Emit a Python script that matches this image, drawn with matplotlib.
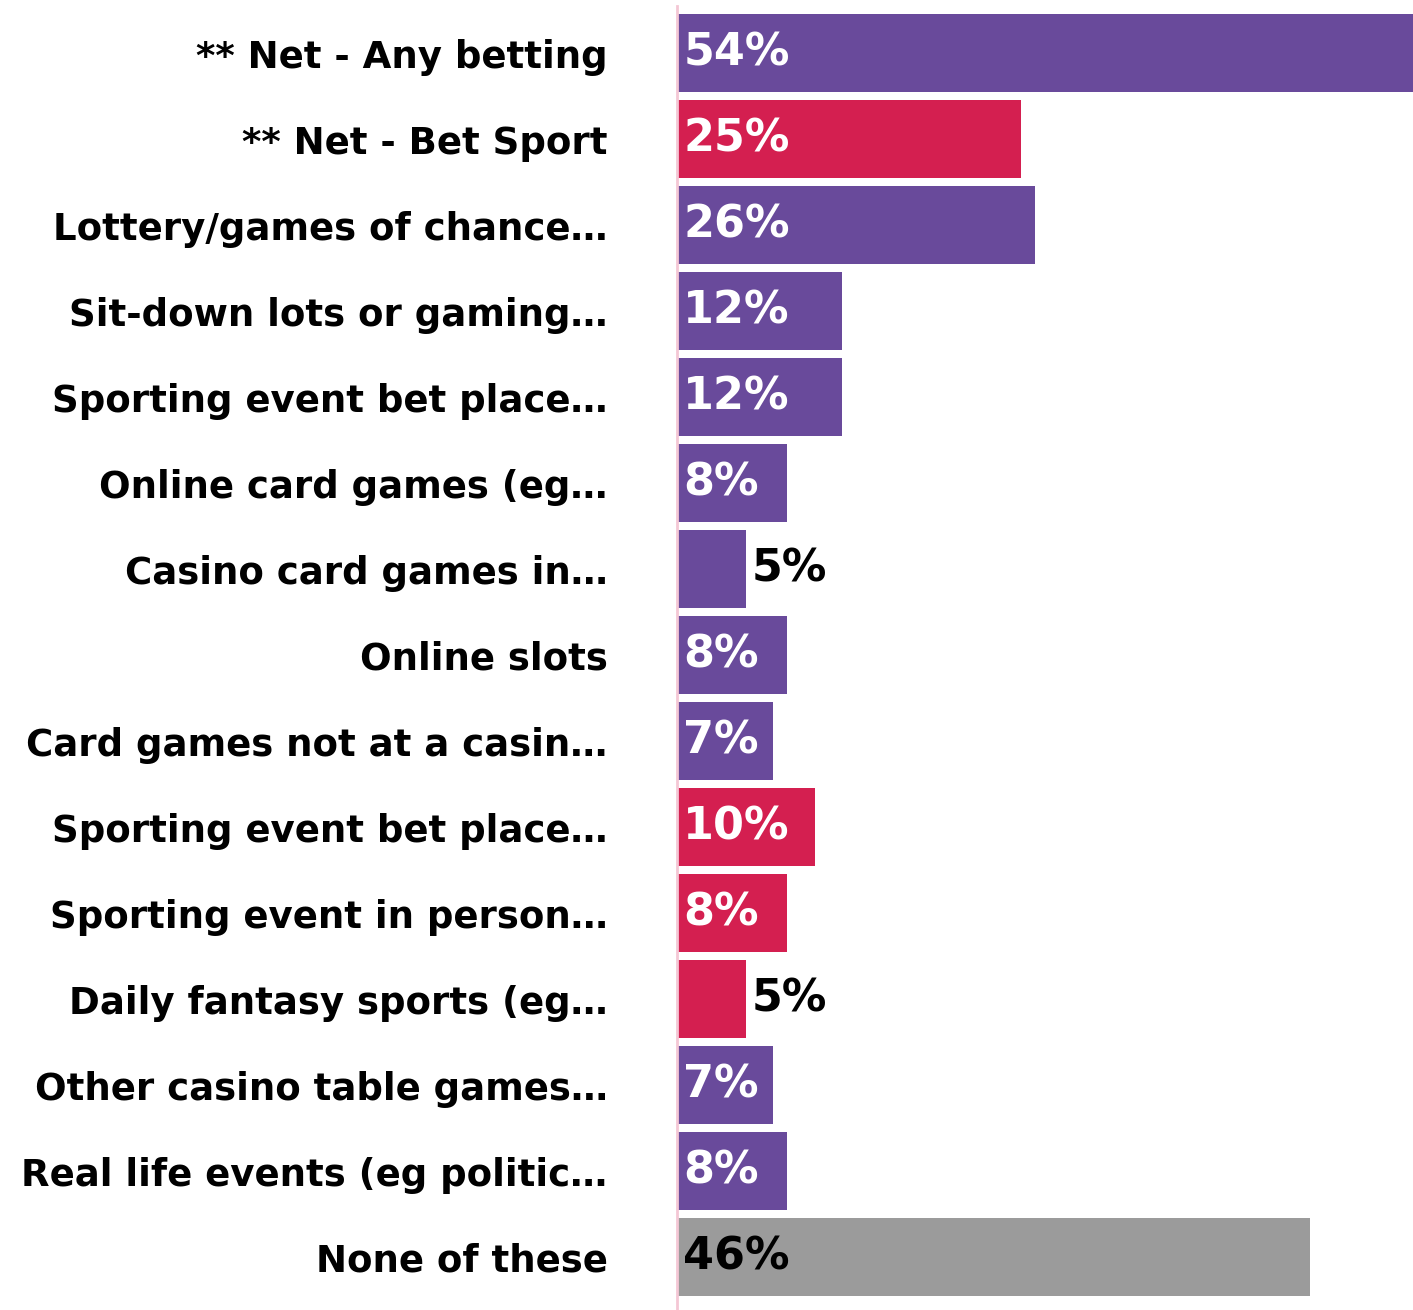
import matplotlib
matplotlib.use("Agg")
import matplotlib.pyplot as plt

categories = [
    "** Net - Any betting",
    "** Net - Bet Sport",
    "Lottery/games of chance\u2026",
    "Sit-down lots or gaming\u2026",
    "Sporting event bet place\u2026",
    "Online card games (eg\u2026",
    "Casino card games in\u2026",
    "Online slots",
    "Card games not at a casin\u2026",
    "Sporting event bet place\u2026",
    "Sporting event in person\u2026",
    "Daily fantasy sports (eg\u2026",
    "Other casino table games\u2026",
    "Real life events (eg politic\u2026",
    "None of these",
]
values = [54, 25, 26, 12, 12, 8, 5, 8, 7, 10, 8, 5, 7, 8, 46]
groups = ["any", "sport", "any", "any", "any", "any", "any", "any", "any",
          "sport", "sport", "sport", "any", "any", "none"]

colors = {"any": "#694A9B", "sport": "#D41F50", "none": "#9B9B9B"}
label_colors = {"any": "white", "sport": "white", "none": "black"}

W, H = 1413, 1310
fig = plt.figure(figsize=(W / 100, H / 100), dpi=100)
ax = fig.add_axes([677 / W, 0, 1 - 677 / W, (H - 6) / H])

pos = list(range(len(categories)))
ax.barh(pos, values, height=0.907,
        color=[colors[g] for g in groups], align="center")

ax.set_xlim(0, (W - 677) / 13.76)
ax.set_ylim(14.616, -0.547)

for spine in ["top", "right", "bottom"]:
    ax.spines[spine].set_visible(False)
ax.spines["left"].set_color("#F4C7D5")
ax.spines["left"].set_linewidth(2)
ax.set_xticks([])
ax.set_yticks(pos)
ax.set_yticklabels(categories, fontsize=26.7, fontweight="bold", family="DejaVu Sans")
ax.tick_params(axis="y", length=0, pad=50)

for i, (v, g) in enumerate(zip(values, groups)):
    if v < 6:
        ax.text(v + 0.45, i, f"{v}%", va="center", ha="left",
                fontsize=32, fontweight="bold", color="black")
    else:
        ax.text(0.45, i, f"{v}%", va="center", ha="left",
                fontsize=32, fontweight="bold", color=label_colors[g])

fig.savefig("out.png", dpi=100)
